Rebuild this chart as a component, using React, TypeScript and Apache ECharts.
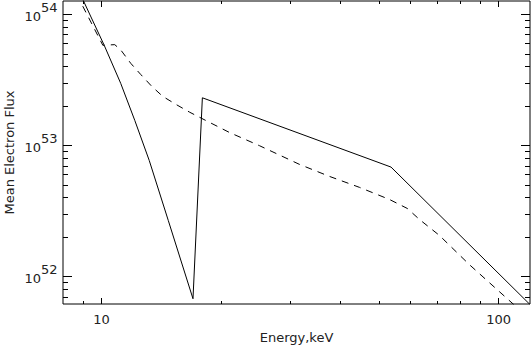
import React, { useEffect, useRef } from 'react';
import * as echarts from 'echarts';

// Solid curve (energy in keV, mean electron flux)
const energySolid = [8.0, 8.99, 10.16, 11.18, 12.13, 13.19, 14.73, 17.0, 17.95, 53.6, 120];
const fluxSolid = [2.7e54, 1.29e54, 5.83e53, 2.99e53, 1.56e53, 7.72e52, 2.69e52, 6.8e51, 2.32e53, 6.87e52, 6.14e51];

// Dashed curve
const energyDashed = [8.97, 10.08, 10.8, 11.18, 11.85, 12.55, 13.38, 14.26, 15.38, 16.68, 18.29, 21.02, 25.0, 31.53, 37.52, 44.64, 53.11, 58.92, 63.19, 70.94, 84.39, 100.4, 119.5];
const fluxDashed = [1.16e54, 5.83e53, 5.9e53, 5.38e53, 4.25e53, 3.5e53, 2.84e53, 2.38e53, 2.07e53, 1.8e53, 1.56e53, 1.26e53, 1.0e53, 7.2e52, 5.83e52, 4.81e52, 3.89e52, 3.32e52, 2.74e52, 2.07e52, 1.24e52, 7.72e51, 4.81e51];

// Axis ranges and ticks
const xRange = [8, 120];
const yRange = [6.2e51, 1.27e54];
const xMajorTicks = [10, 100];
const xMinorTicks = [9, 20, 30, 40, 50, 60, 70, 80, 90];
const yMajorTicks = [1e52, 1e53, 1e54];
const yMinorTicks = [7e51, 8e51, 9e51, 2e52, 3e52, 4e52, 5e52, 6e52, 7e52, 8e52, 9e52, 2e53, 3e53, 4e53, 5e53, 6e53, 7e53, 8e53, 9e53];

const FONT = 'DejaVu Sans';
const TXT = '#222';

export default function App() {
  const ref = useRef<HTMLDivElement>(null);
  useEffect(() => {
    document.body.style.margin = '0';
    const chart = echarts.init(ref.current!, null, { renderer: 'svg' });
    const crisp = (v: number) => Math.round(v - 0.5) + 0.5;
    const tickStyle = { stroke: '#000', lineWidth: 1 };
    const option: any = {
      animation: false,
      grid: {
        left: 63, right: 1, top: 1, bottom: 43, containLabel: false, outerBoundsMode: 'none',
        show: true, borderColor: '#000', borderWidth: 1, backgroundColor: 'transparent',
      },
      xAxis: {
        type: 'log', logBase: 10, min: xRange[0], max: xRange[1],
        axisLine: { show: false }, axisTick: { show: false }, splitLine: { show: false },
        axisLabel: {
          margin: 9, fontSize: 13, fontFamily: FONT, color: TXT,
          formatter: (v: number) => {
            const e = Math.log10(v); const r = Math.round(e);
            return Math.abs(e - r) < 1e-6 ? String(Math.round(Math.pow(10, r))) : '';
          },
        },
        name: 'Energy,keV', nameLocation: 'middle', nameGap: 25,
        nameTextStyle: { fontSize: 13, fontFamily: FONT, color: TXT },
      },
      yAxis: {
        type: 'log', logBase: 10, min: yRange[0], max: yRange[1],
        axisLine: { show: false }, axisTick: { show: false }, splitLine: { show: false },
        axisLabel: { show: false },
        name: 'Mean Electron Flux', nameLocation: 'middle', nameGap: 47,
        nameTextStyle: { fontSize: 13, fontFamily: FONT, color: TXT },
      },
      series: [
        {
          type: 'line', data: energySolid.map((e, i) => [e, fluxSolid[i]]),
          showSymbol: false, lineStyle: { color: '#000', width: 1 }, clip: true, silent: true,
        },
        {
          type: 'line', data: energyDashed.map((e, i) => [e, fluxDashed[i]]),
          showSymbol: false, lineStyle: { color: '#000', width: 1, type: [7, 6] }, clip: true, silent: true,
        },
        {
          type: 'custom', silent: true, clip: false, z: 5,
          encode: { x: 0, y: 1 },
          data: [...xMajorTicks.map((v) => [v, 1e53, 1]), ...xMinorTicks.map((v) => [v, 1e53, 0])],
          renderItem: (params: any, api: any) => {
            const cs = params.coordSys;
            const x = crisp(api.coord([api.value(0), 1e53])[0]);
            const len = api.value(2) ? 6 : 3;
            const yb = cs.y + cs.height;
            const yt = cs.y;
            return {
              type: 'group',
              children: [
                { type: 'line', shape: { x1: x, y1: yb, x2: x, y2: yb - len }, style: tickStyle },
                { type: 'line', shape: { x1: x, y1: yt, x2: x, y2: yt + len }, style: tickStyle },
              ],
            };
          },
        },
        {
          type: 'custom', silent: true, clip: false, z: 5,
          encode: { x: 0, y: 1 },
          data: [...yMajorTicks.map((v) => [10, v, 1]), ...yMinorTicks.map((v) => [10, v, 0])],
          renderItem: (params: any, api: any) => {
            const cs = params.coordSys;
            const y = crisp(api.coord([10, api.value(1)])[1]);
            const major = !!api.value(2);
            const len = major ? 9 : 5;
            const xl = cs.x;
            const xr = cs.x + cs.width;
            const children: any[] = [
              { type: 'line', shape: { x1: xl, y1: y, x2: xl + len, y2: y }, style: tickStyle },
              { type: 'line', shape: { x1: xr, y1: y, x2: xr - len, y2: y }, style: tickStyle },
            ];
            if (major) {
              const exp = Math.round(Math.log10(api.value(1)));
              children.push(
                { type: 'text', x: xl - 22, y: y + 1.5, style: { text: '10', align: 'right', verticalAlign: 'middle', fontSize: 13, fontFamily: FONT, fill: TXT } },
                { type: 'text', x: xl - 22, y: y - 7, style: { text: String(exp), align: 'left', verticalAlign: 'middle', fontSize: 13, fontFamily: FONT, fill: TXT } },
              );
            }
            return { type: 'group', children };
          },
        },
      ],
    };
    chart.setOption(option);
    return () => chart.dispose();
  }, []);
  return <div ref={ref} style={{ width: 531, height: 347 }} />;
}
